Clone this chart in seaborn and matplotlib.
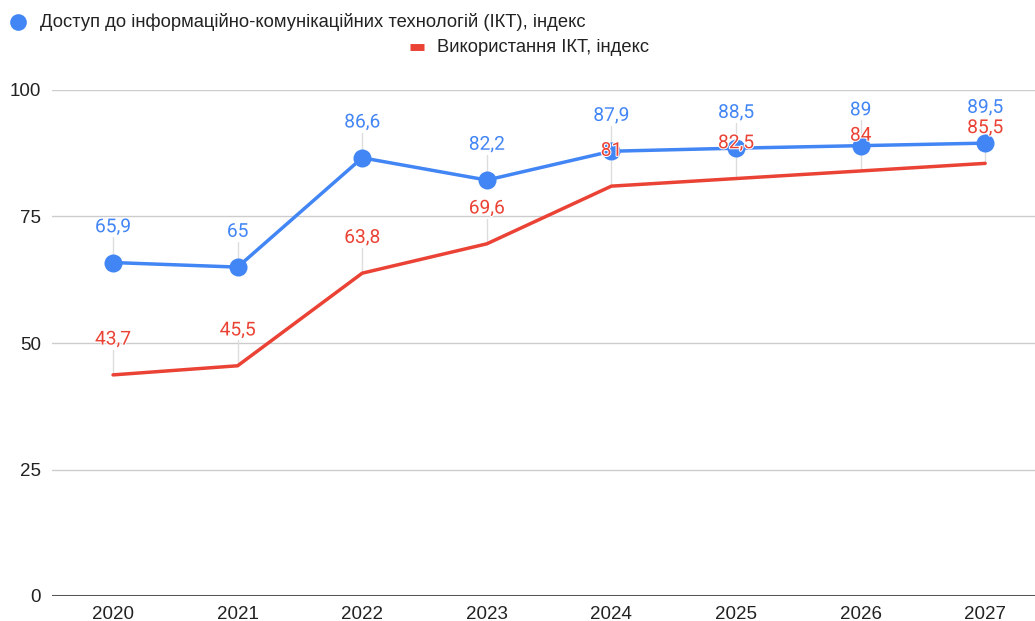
import matplotlib
matplotlib.use("Agg")
import matplotlib.pyplot as plt
import matplotlib.patheffects as pe
from matplotlib.lines import Line2D
import seaborn as sns
import pandas as pd

years = [2020, 2021, 2022, 2023, 2024, 2025, 2026, 2027]
access = [65.9, 65, 86.6, 82.2, 87.9, 88.5, 89, 89.5]
usage = [43.7, 45.5, 63.8, 69.6, 81, 82.5, 84, 85.5]
access_name = "Доступ до інформаційно-комунікаційних технологій (ІКТ), індекс"
usage_name = "Використання ІКТ, індекс"

blue = "#4285F4"
red = "#EA4335"

sns.set_style("white")
plt.rcParams["font.family"] = ["Liberation Sans", "DejaVu Sans"]

df = pd.DataFrame({"year": years, "access": access, "usage": usage})

W, H = 1035, 621
fig = plt.figure(figsize=(W / 100, H / 100), dpi=100)
ax = fig.add_axes([52 / W, 1 - 596 / H, 1 - 52 / W, (596 - 90) / H])

sns.lineplot(data=df, x="year", y="access", color=blue, linewidth=2.5,
             marker="o", markersize=13, markeredgewidth=0, ax=ax, zorder=4)
sns.lineplot(data=df, x="year", y="usage", color=red, linewidth=2.5, ax=ax, zorder=3)

ax.set_xlim(2019.51, 2027.4)
ax.set_ylim(0, 100)
ax.set_yticks([0, 25, 50, 75, 100])
ax.set_xticks(years)
ax.set_xlabel("")
ax.set_ylabel("")
ax.grid(axis="y", color="#cccccc", linewidth=1)
ax.grid(axis="x", visible=False)
ax.axhline(0, color="#555555", linewidth=2.2, zorder=5)
for s in ax.spines.values():
    s.set_visible(False)
ax.tick_params(axis="both", length=0, labelsize=13.5, colors="#222222")
ax.tick_params(axis="y", pad=8)
ax.tick_params(axis="x", pad=7)


def fmt(v):
    return f"{v:g}".replace(".", ",")


halo = [pe.withStroke(linewidth=1.5, foreground="white")]


def label(series, color):
    for x, v in zip(years, series):
        top = v + 5.0
        ax.plot([x, x], [v, top], color="#dddddd", linewidth=1, zorder=2)
        ax.text(x, top + 0.2, fmt(v), color=color, ha="center", va="bottom",
                fontsize=13.8, family=["Roboto", "DejaVu Sans"], zorder=6,
                path_effects=halo)


label(access, blue)
label(usage, red)

# legend, drawn in figure pixels like the Google Charts layout
fig.add_artist(Line2D([18 / W], [1 - 22 / H], marker="o", color=blue,
                      markersize=12, markeredgewidth=0, transform=fig.transFigure))
fig.text(40 / W, 1 - 22 / H, access_name, fontsize=13.2, va="center", ha="left",
         color="#222222")
fig.add_artist(Line2D([410 / W, 424 / W], [1 - 47 / H] * 2, color=red,
                      linewidth=5, solid_capstyle="butt", transform=fig.transFigure))
fig.text(437 / W, 1 - 47 / H, usage_name, fontsize=13.2, va="center", ha="left",
         color="#222222")

fig.savefig("out.png", dpi=100)
